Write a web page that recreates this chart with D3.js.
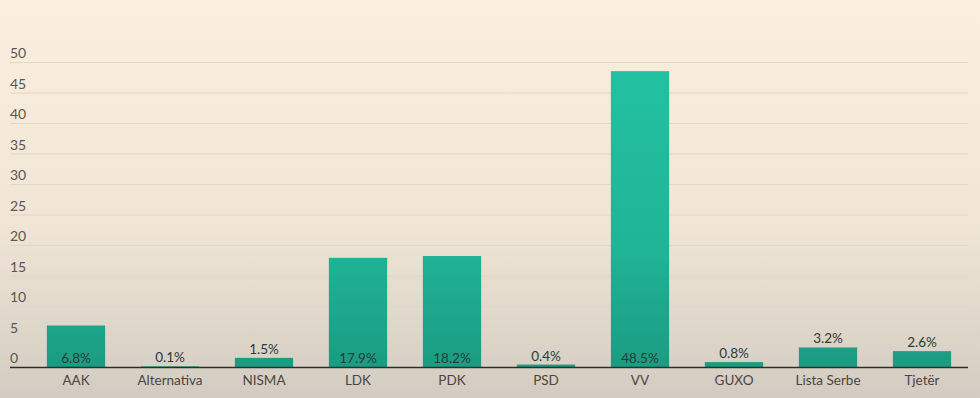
<!DOCTYPE html>
<html>
<head>
<meta charset="utf-8">
<script src="https://cdn.jsdelivr.net/npm/d3@7"></script>
<style>
  html, body { margin: 0; padding: 0; }
  body { width: 980px; height: 398px; overflow: hidden; }
  svg { display: block; font-family: Lato, "Open Sans", sans-serif; }
</style>
</head>
<body>
<div id="chart"></div>
<script>
// chart data
const parties = ["AAK", "Alternativa", "NISMA", "LDK", "PDK", "PSD", "VV", "GUXO", "Lista Serbe", "Tjetër"];
const shares = [6.8, 0.1, 1.5, 17.9, 18.2, 0.4, 48.5, 0.8, 3.2, 2.6];
const yTicks = [0, 5, 10, 15, 20, 25, 30, 35, 40, 45, 50];

const W = 980, H = 398;
const svg = d3.select("#chart").append("svg")
    .attr("width", W)
    .attr("height", H);

// background gradient
const defs = svg.append("defs");
const bg = defs.append("linearGradient")
    .attr("id", "bg").attr("x1", 0).attr("y1", 0).attr("x2", 0).attr("y2", 1);
bg.append("stop").attr("offset", "0%").attr("stop-color", "#fbeedd");
bg.append("stop").attr("offset", "55%").attr("stop-color", "#f1e6d6");
bg.append("stop").attr("offset", "100%").attr("stop-color", "#d3ccc2");

const barGrad = defs.append("linearGradient")
    .attr("id", "bar").attr("x1", 0).attr("y1", 0).attr("x2", 0).attr("y2", 1)
    .attr("gradientUnits", "userSpaceOnUse")
    .attr("y1", 60).attr("y2", 368);
barGrad.append("stop").attr("offset", "0%").attr("stop-color", "#22c2a2");
barGrad.append("stop").attr("offset", "60%").attr("stop-color", "#20b597");
barGrad.append("stop").attr("offset", "100%").attr("stop-color", "#1b9b82");

svg.append("rect").attr("width", W).attr("height", H).attr("fill", "url(#bg)");

const x = d3.scaleBand()
    .domain(parties)
    .range([29, 969])
    .paddingInner(0.38)
    .paddingOuter(0.19);

const y = d3.scaleLinear()
    .domain([0, 50])
    .range([367, 62]);

// gridlines
svg.append("g")
    .selectAll("line")
    .data(yTicks.filter(d => d > 0))
    .join("line")
    .attr("x1", 10).attr("x2", 968)
    .attr("y1", d => y(d) + 0.5).attr("y2", d => y(d) + 0.5)
    .attr("stroke", "#e1d7c8")
    .attr("stroke-width", 1);

// y labels
svg.append("g")
    .selectAll("text")
    .data(yTicks)
    .join("text")
    .attr("x", 10)
    .attr("y", d => y(d) - 4)
    .attr("font-size", 14)
    .attr("fill", "#5b5650")
    .text(d => d);

// bars
svg.append("g")
    .selectAll("rect")
    .data(parties)
    .join("rect")
    .attr("x", d => x(d))
    .attr("width", x.bandwidth())
    .attr("y", (d, i) => y(shares[i]))
    .attr("height", (d, i) => y(0) - y(shares[i]))
    .attr("fill", "url(#bar)");

// value labels: inside base for tall bars, above otherwise
svg.append("g")
    .selectAll("text")
    .data(parties)
    .join("text")
    .attr("x", d => x(d) + x.bandwidth() / 2)
    .attr("y", (d, i) => {
        const top = y(shares[i]);
        return (y(0) - top > 20) ? y(0) - 4 : top - 4;
    })
    .attr("text-anchor", "middle")
    .attr("font-size", 13.5)
    .attr("fill", "#2b3a36")
    .text((d, i) => shares[i].toFixed(1) + "%");

// x axis line
svg.append("line")
    .attr("x1", 10).attr("x2", 968)
    .attr("y1", y(0) + 0.5).attr("y2", y(0) + 0.5)
    .attr("stroke", "#2f2d2a")
    .attr("stroke-width", 1.5);

// category labels
svg.append("g")
    .selectAll("text")
    .data(parties)
    .join("text")
    .attr("x", d => x(d) + x.bandwidth() / 2)
    .attr("y", 385)
    .attr("text-anchor", "middle")
    .attr("font-size", 13.5)
    .attr("fill", "#4b4640")
    .text(d => d);
</script>
</body>
</html>
